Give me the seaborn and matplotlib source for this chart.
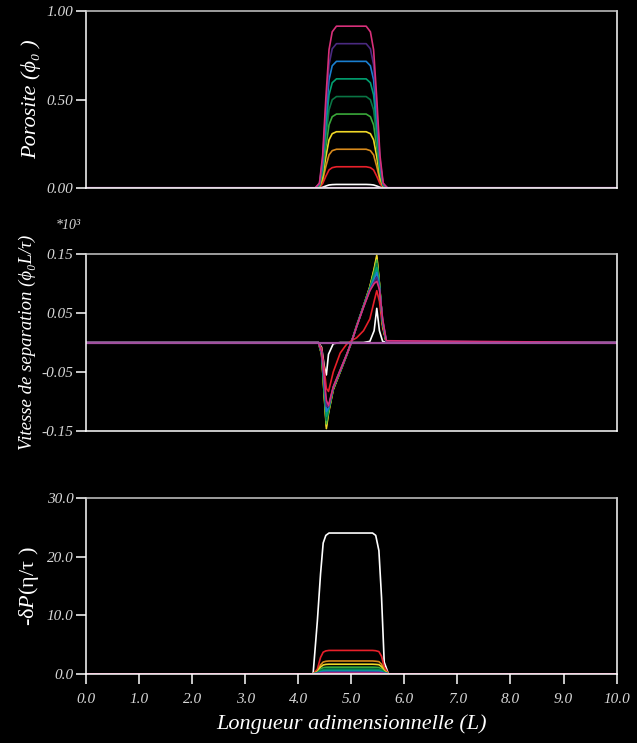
import numpy as np
import pandas as pd
import matplotlib
matplotlib.use("Agg")
import matplotlib.pyplot as plt
import seaborn as sns

# --- données ---
couleurs = ["#ffffff", "#e8202a", "#d88a1c", "#f0d828", "#3aa83a",
            "#0a7444", "#00a070", "#1a7fd0", "#4a2a80", "#d8307a"]
mauve = "#a0509f"

# porosité
x_phi = [0, 4.32, 4.40, 4.46, 4.52, 4.58, 4.64, 4.72, 5.28, 5.36, 5.42, 5.48, 5.54, 5.60, 5.68, 10]
phi_blanc = [0, 0, 0.001, 0.004, 0.011, 0.017, 0.019, 0.02, 0.02, 0.019, 0.017, 0.011, 0.004, 0.001, 0, 0]
phi_rouge = [0, 0, 0.004, 0.024, 0.066, 0.102, 0.115, 0.12, 0.12, 0.115, 0.102, 0.066, 0.024, 0.004, 0, 0]
phi_orange = [0, 0, 0.007, 0.044, 0.121, 0.187, 0.211, 0.219, 0.219, 0.211, 0.187, 0.121, 0.044, 0.007, 0, 0]
phi_jaune = [0, 0, 0.01, 0.064, 0.176, 0.272, 0.307, 0.318, 0.318, 0.307, 0.272, 0.176, 0.064, 0.01, 0, 0]
phi_vert = [0, 0, 0.013, 0.084, 0.231, 0.357, 0.403, 0.418, 0.418, 0.403, 0.357, 0.231, 0.084, 0.013, 0, 0]
phi_vert_fonce = [0, 0, 0.016, 0.104, 0.286, 0.442, 0.499, 0.517, 0.517, 0.499, 0.442, 0.286, 0.104, 0.016, 0, 0]
phi_turquoise = [0, 0, 0.019, 0.124, 0.341, 0.527, 0.595, 0.617, 0.617, 0.595, 0.527, 0.341, 0.124, 0.019, 0, 0]
phi_bleu = [0, 0, 0.022, 0.144, 0.396, 0.612, 0.691, 0.716, 0.716, 0.691, 0.612, 0.396, 0.144, 0.022, 0, 0]
phi_violet = [0, 0, 0.025, 0.164, 0.451, 0.697, 0.787, 0.816, 0.816, 0.787, 0.697, 0.451, 0.164, 0.025, 0, 0]
phi_magenta = [0, 0, 0.028, 0.184, 0.506, 0.782, 0.883, 0.915, 0.915, 0.883, 0.782, 0.506, 0.184, 0.028, 0, 0]

# vitesse de séparation
x_v = [0, 4.38, 4.44, 4.49, 4.53, 4.57, 4.66, 4.79, 4.91, 5.0, 5.1, 5.23, 5.35, 5.43, 5.48, 5.53, 5.59, 5.66, 10]
v_blanc = [0, 0, -0.008, -0.04, -0.055, -0.02, -0.002, 0, 0, 0, 0, 0, 0.002, 0.02, 0.058, 0.02, 0.002, 0, 0]
v_rouge = [0, 0, -0.01, -0.045, -0.078, -0.083, -0.05, -0.018, -0.003, 0.003, 0.008, 0.02, 0.04, 0.07, 0.088, 0.07, 0.025, 0, 0]
v_orange = [0, 0, -0.02, -0.09, -0.142, -0.118, -0.079, -0.05, -0.022, 0, 0.028, 0.062, 0.094, 0.123, 0.145, 0.10, 0.03, 0, 0]
v_jaune = [0, 0, -0.02, -0.09, -0.146, -0.12, -0.08, -0.05, -0.022, 0, 0.028, 0.062, 0.095, 0.125, 0.148, 0.10, 0.03, 0, 0]
v_vert = [0, 0, -0.019, -0.085, -0.138, -0.117, -0.078, -0.049, -0.022, 0, 0.028, 0.062, 0.093, 0.12, 0.14, 0.10, 0.032, 0, 0]
v_vert_fonce = [0, 0, -0.018, -0.08, -0.132, -0.115, -0.077, -0.049, -0.022, 0, 0.028, 0.062, 0.092, 0.116, 0.134, 0.098, 0.034, 0.001, 0]
v_turquoise = [0, 0, -0.017, -0.075, -0.125, -0.113, -0.077, -0.048, -0.021, 0, 0.028, 0.061, 0.091, 0.112, 0.127, 0.096, 0.036, 0.001, 0]
v_bleu = [0, 0, -0.016, -0.07, -0.117, -0.111, -0.076, -0.048, -0.021, 0, 0.027, 0.061, 0.09, 0.107, 0.119, 0.094, 0.037, 0.002, 0]
v_violet = [0, 0, -0.016, -0.065, -0.108, -0.109, -0.076, -0.047, -0.021, 0, 0.027, 0.06, 0.089, 0.103, 0.111, 0.092, 0.039, 0.002, 0]
v_magenta = [0, 0, -0.015, -0.06, -0.098, -0.107, -0.075, -0.047, -0.021, 0, 0.027, 0.06, 0.088, 0.100, 0.104, 0.09, 0.04, 0.003, 0]

# pression
x_p = [0, 4.28, 4.36, 4.42, 4.47, 4.52, 4.58, 5.40, 5.46, 5.52, 5.57, 5.62, 5.70, 10]
p_blanc = [0, 0, 9, 17, 22.3, 23.6, 24.0, 24.0, 23.6, 21, 13, 2, 0, 0]
p_rouge = [0, 0, 0.8, 2.8, 3.7, 3.92, 4.0, 4.0, 3.95, 3.8, 3.0, 1.2, 0, 0]
p_orange = [0, 0, 0.44, 1.54, 2.02, 2.15, 2.2, 2.2, 2.16, 2.09, 1.65, 0.66, 0, 0]
p_jaune = [0, 0, 0.33, 1.16, 1.52, 1.62, 1.65, 1.65, 1.62, 1.57, 1.24, 0.5, 0, 0]
p_vert = [0, 0, 0.23, 0.8, 1.06, 1.13, 1.15, 1.15, 1.13, 1.09, 0.86, 0.35, 0, 0]
p_vert_fonce = [0, 0, 0.17, 0.6, 0.78, 0.83, 0.85, 0.85, 0.83, 0.81, 0.64, 0.26, 0, 0]
p_turquoise = [0, 0, 0.13, 0.44, 0.58, 0.62, 0.63, 0.63, 0.62, 0.6, 0.47, 0.19, 0, 0]
p_bleu = [0, 0, 0.08, 0.29, 0.39, 0.41, 0.42, 0.42, 0.41, 0.4, 0.32, 0.13, 0, 0]
p_violet = [0, 0, 0.06, 0.2, 0.26, 0.27, 0.28, 0.28, 0.27, 0.27, 0.21, 0.08, 0, 0]
p_magenta = [0, 0, 0.03, 0.08, 0.11, 0.12, 0.12, 0.12, 0.12, 0.11, 0.09, 0.04, 0, 0]

x_ticks = [0, 1, 2, 3, 4, 5, 6, 7, 8, 9, 10]

phi_series = [phi_blanc, phi_rouge, phi_orange, phi_jaune, phi_vert,
              phi_vert_fonce, phi_turquoise, phi_bleu, phi_violet, phi_magenta]
v_series = [v_blanc, v_rouge, v_orange, v_jaune, v_vert,
            v_vert_fonce, v_turquoise, v_bleu, v_violet, v_magenta]
p_series = [p_blanc, p_rouge, p_orange, p_jaune, p_vert,
            p_vert_fonce, p_turquoise, p_bleu, p_violet, p_magenta]

# --- style ---
sns.set_theme(style="dark", rc={
    "figure.facecolor": "black",
    "axes.facecolor": "black",
    "savefig.facecolor": "black",
    "axes.edgecolor": "white",
    "axes.linewidth": 1.1,
    "xtick.color": "white",
    "ytick.color": "white",
    "xtick.labelcolor": "#d8d8d8",
    "ytick.labelcolor": "#d8d8d8",
    "axes.labelcolor": "white",
    "xtick.major.size": 7,
    "ytick.major.size": 7,
    "xtick.major.width": 1.1,
    "ytick.major.width": 1.1,
    "xtick.bottom": True,
    "ytick.left": True,
})
plt.rcParams["font.family"] = ["Liberation Serif", "DejaVu Serif"]
plt.rcParams["mathtext.fontset"] = "custom"
plt.rcParams["mathtext.rm"] = "Liberation Serif"
plt.rcParams["mathtext.it"] = "Liberation Serif:italic"

fig = plt.figure(figsize=(6.37, 7.43), dpi=100)
ax1 = fig.add_axes([0.135, 0.747, 0.833, 0.238])
ax2 = fig.add_axes([0.135, 0.420, 0.833, 0.238])
ax3 = fig.add_axes([0.135, 0.093, 0.833, 0.237])


def tracer(ax, x, series, lw=1.2):
    for y, c in zip(series, couleurs):
        sns.lineplot(x=x, y=y, color=c, linewidth=lw, ax=ax, sort=False)


tracer(ax1, x_phi, phi_series)
sns.lineplot(x=[0, 10], y=[0, 0], color=mauve, linewidth=1.6, ax=ax1)
tracer(ax2, x_v, v_series)
sns.lineplot(x=[0, 10], y=[0, 0], color=mauve, linewidth=1.6, ax=ax2)
tracer(ax3, x_p, p_series)
sns.lineplot(x=[0, 10], y=[0, 0], color="#e0408a", linewidth=1.4, ax=ax3)

tick_font = dict(fontsize=11, fontstyle="italic")

for ax in (ax1, ax2, ax3):
    ax.set_xlim(0, 10)
    ax.grid(False)
    for s in ax.spines.values():
        s.set_color("white")
        s.set_linewidth(1.1)
    ax.spines["top"].set_color("#c8c8c8")
    ax.tick_params(axis="y", direction="out", length=7, pad=2)

ax1.set_ylim(0, 1.0)
ax1.set_yticks([0, 0.5, 1.0])
ax1.set_yticklabels(["0.00", "0.50", "1.00"], **tick_font)
ax1.set_xticks([])
ax1.set_ylabel("Porosite (ϕ₀ )", fontsize=16, fontstyle="italic", labelpad=4)

ax2.set_ylim(-0.15, 0.15)
ax2.set_yticks([-0.15, -0.05, 0.05, 0.15])
ax2.set_yticklabels(["-0.15", "-0.05", "0.05", "0.15"], **tick_font)
ax2.set_xticks([])
ax2.set_ylabel("Vitesse de separation (ϕ₀L/τ)", fontsize=13.5, fontstyle="italic", labelpad=4)
fig.text(0.087, 0.692, "*10³", fontsize=10, fontstyle="italic", color="#d8d8d8")

ax3.set_ylim(0, 30)
ax3.set_yticks([0, 10, 20, 30])
ax3.set_yticklabels(["0.0", "10.0", "20.0", "30.0"], **tick_font)
ax3.set_xticks(x_ticks)
ax3.set_xticklabels([f"{t:.1f}" for t in x_ticks], **tick_font)
ax3.tick_params(axis="x", direction="out", length=7, pad=7)
ax3.set_ylabel(r"-δ$\mathit{P}$(η/τ )", fontsize=16, labelpad=4)
ax3.set_xlabel("Longueur adimensionnelle (L)", fontsize=16, fontstyle="italic", labelpad=6)

fig.savefig("out.png", dpi=100, facecolor="black")
